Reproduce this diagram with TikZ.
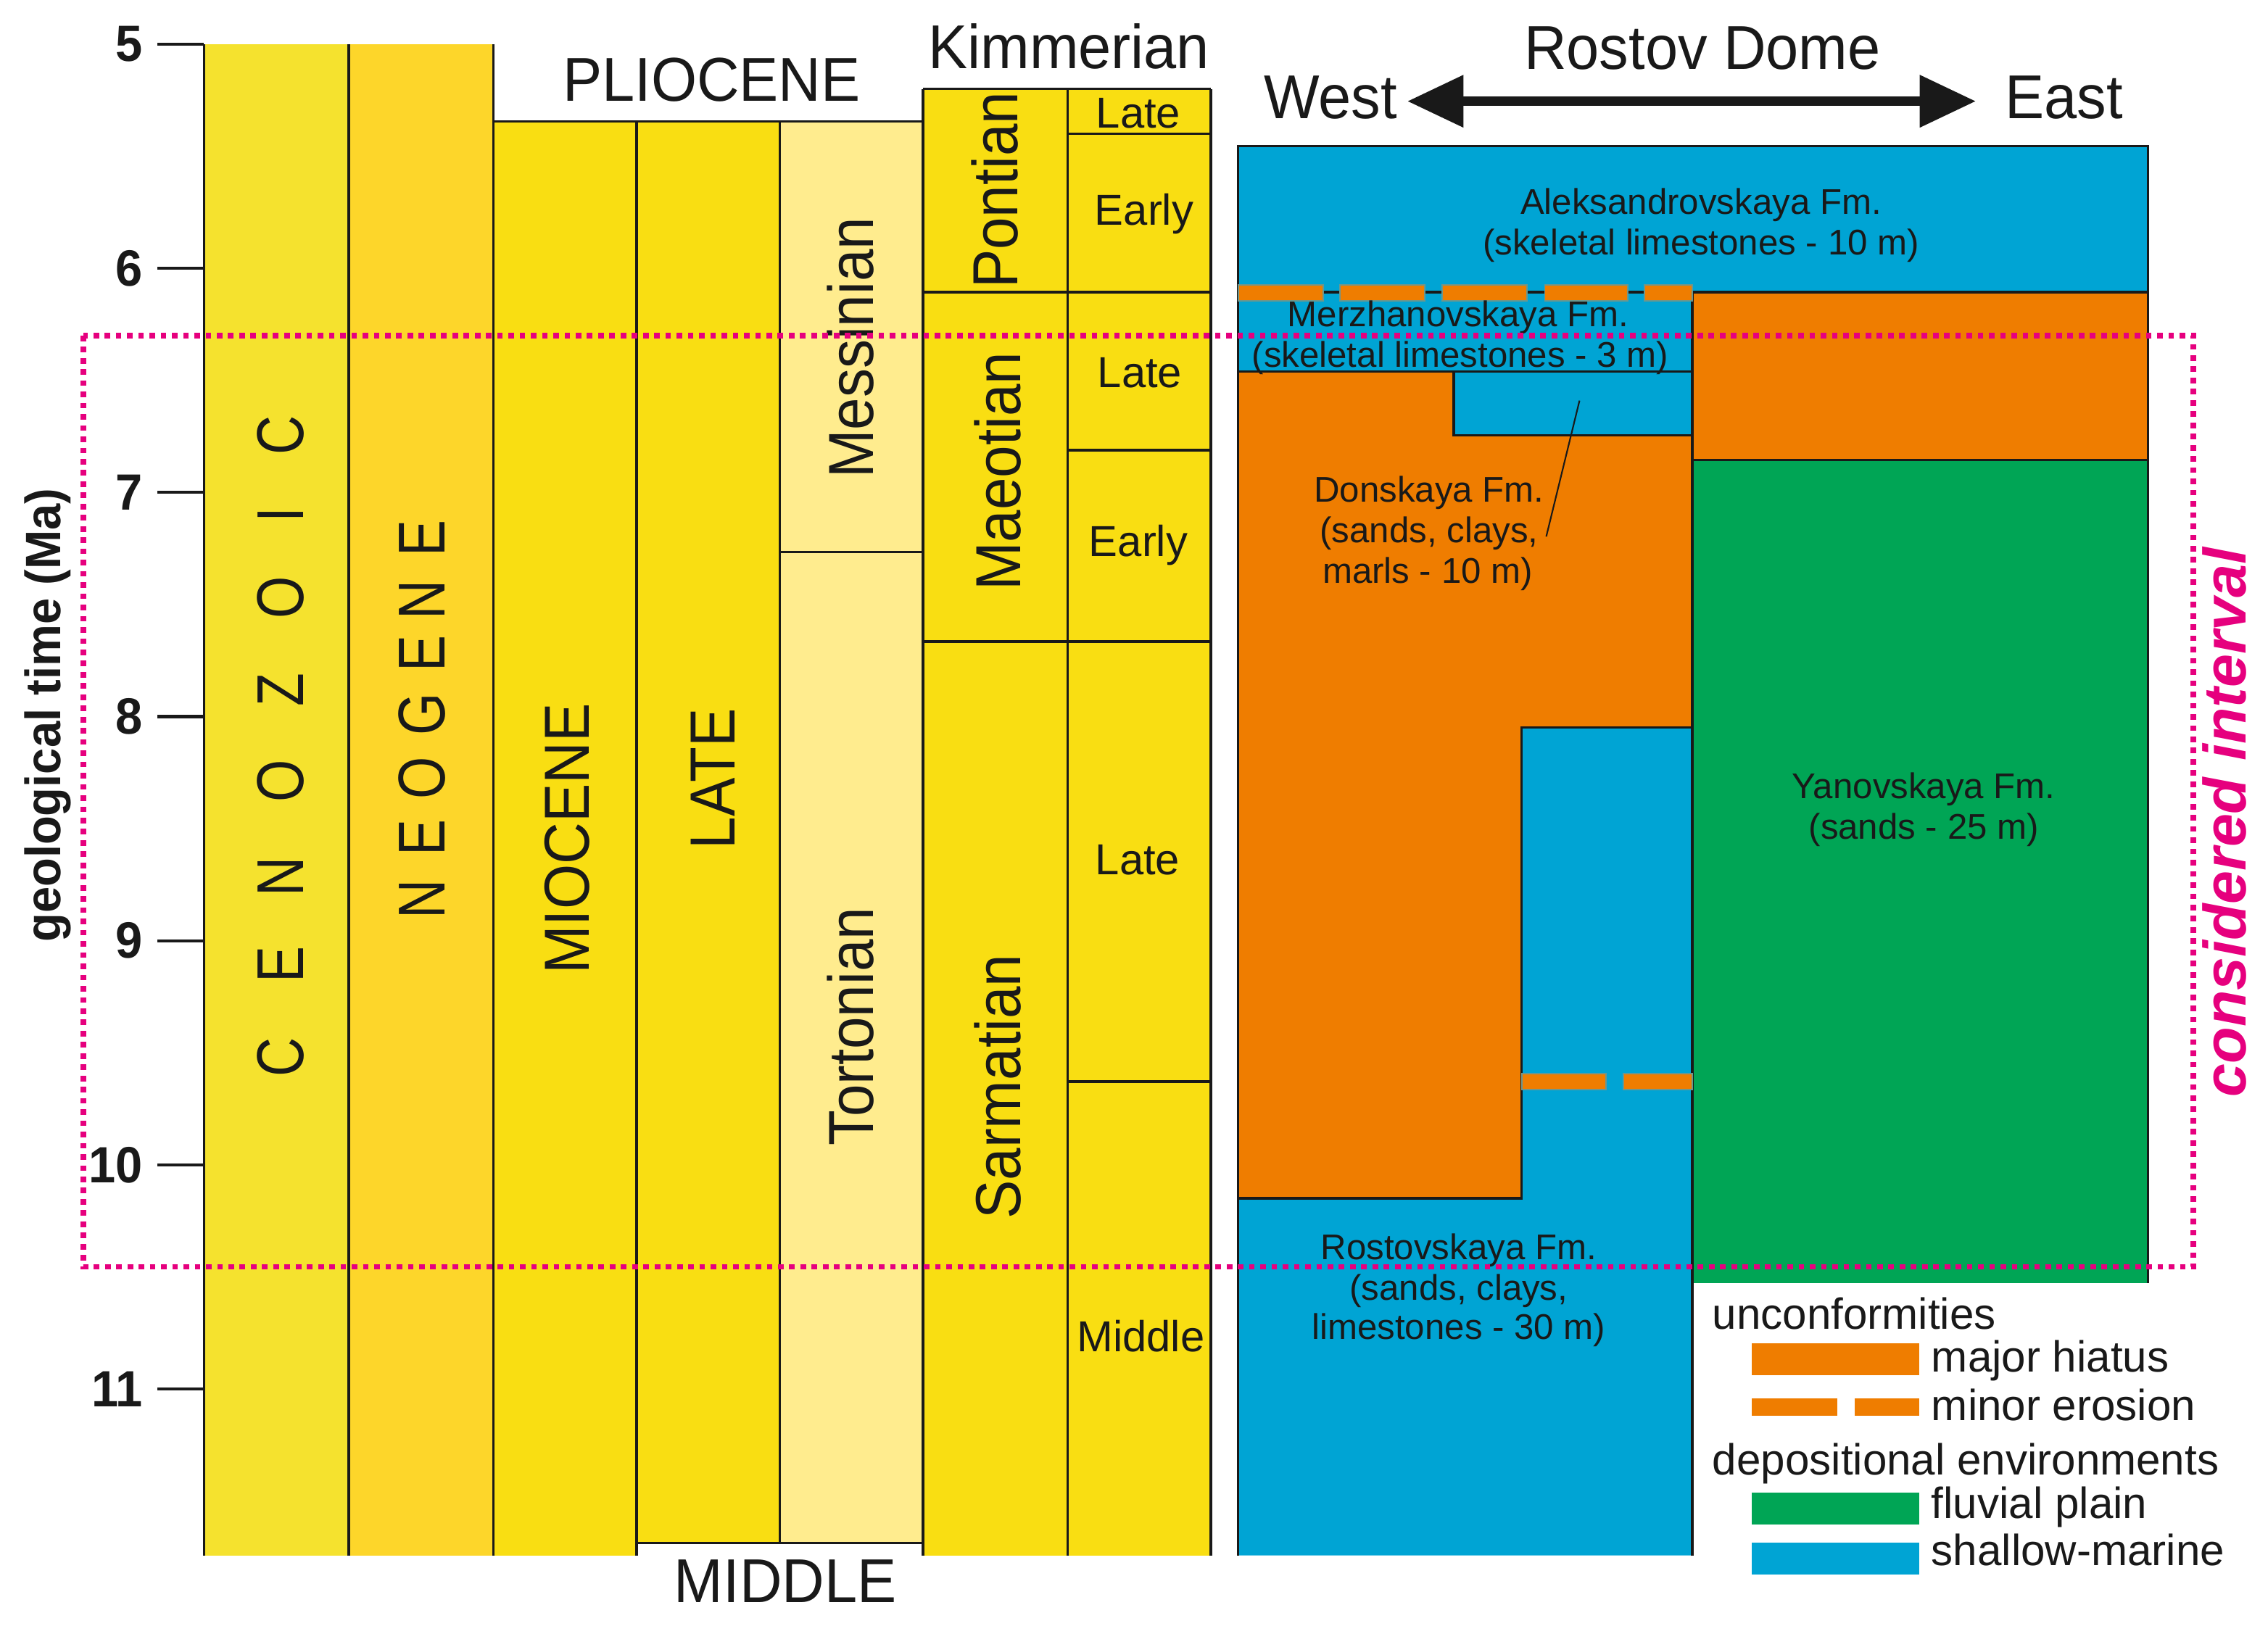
\documentclass[tikz,border=0pt]{standalone}
\usepackage{fontspec}
\setmainfont{Liberation Sans}
\newfontfamily\fBig[FakeStretch=0.95]{Liberation Sans}
\newfontfamily\fCol[FakeStretch=0.91]{Liberation Sans}
\newfontfamily\fLtr[FakeStretch=0.82]{Liberation Sans}
\newfontfamily\fTick[FakeStretch=0.95]{Liberation Sans}
\usetikzlibrary{arrows.meta}
\definecolor{cYa}{RGB}{245,226,46}
\definecolor{cYb}{RGB}{253,214,42}
\definecolor{cYc}{RGB}{249,222,18}
\definecolor{cPale}{RGB}{255,236,142}
\definecolor{cBlue}{RGB}{0,164,212}
\definecolor{cOr}{RGB}{239,125,0}
\definecolor{cGr}{RGB}{0,165,85}
\definecolor{cMag}{RGB}{230,0,126}
\definecolor{cInk}{RGB}{25,25,25}
\begin{document}
\begin{tikzpicture}[x=0.01995cm,y=-0.01995cm,
  border/.style={draw=cInk,line width=1pt,line join=miter},
  biglab/.style={font=\fBig\fontsize{24.3}{28}\selectfont,inner sep=0pt,anchor=base,text=cInk},
  collab/.style={font=\fCol\fontsize{25}{30}\selectfont,inner sep=0pt,rotate=90,text=cInk},
  ltrlab/.style={font=\fLtr\fontsize{26}{30}\selectfont,inner sep=0pt,rotate=90,text=cInk},
  sublab/.style={font=\fontsize{17}{20}\selectfont,inner sep=0pt,anchor=base,text=cInk},
  fmlab/.style={font=\fontsize{14}{16}\selectfont,inner sep=0pt,anchor=base,text=cInk},
  leglab/.style={font=\fontsize{17.1}{20}\selectfont,inner sep=0pt,anchor=base west,text=cInk},
  ticklab/.style={font=\fTick\bfseries\fontsize{20}{22}\selectfont,inner sep=0pt,anchor=east,text=cInk},
  erosion/.style={fill=cOr,draw={rgb,255:red,110;green,150;blue,140},line width=0.5pt}
]
\fill[white] (0,0) rectangle (1568,1124);
\useasboundingbox (0,0) rectangle (1568,1124);

% ---------- stratigraphic columns (fills)
\fill[cYa] (141,30.5) rectangle (241,1075.5);
\fill[cYb] (241,30.5) rectangle (341,1075.5);
\fill[cYc] (341,84) rectangle (440,1075.5);
\fill[cYc] (440,84) rectangle (539,1067);
\fill[cPale] (539,84) rectangle (638,1067);
\fill[cYc] (638,61.5) rectangle (837,1075.5);

% ---------- column lines
\draw[border] (141,30.5) -- (141,1075.5);
\draw[border] (241,30.5) -- (241,1075.5);
\draw[border] (341,30.5) -- (341,1075.5);
\draw[border] (341,84) -- (638,84);
\draw[border] (440,84) -- (440,1075.5);
\draw[border] (539,84) -- (539,1067);
\draw[border] (440,1067) -- (638,1067);
\draw[border] (539,381.7) -- (638,381.7);
\draw[border] (638,61.5) -- (638,1075.5);
\draw[border] (638,61.5) -- (837,61.5);
\draw[border] (738,61.5) -- (738,1075.5);
\draw[border] (837,61.5) -- (837,1075.5);
\draw[border] (738,92.4) -- (837,92.4);
\draw[border] (638,202) -- (837,202);
\draw[border] (738,311.3) -- (837,311.3);
\draw[border] (638,443.6) -- (837,443.6);
\draw[border] (738,748) -- (837,748);

% ---------- time axis
\foreach \t in {5,...,11}{
  \draw[draw=cInk,line width=1.2pt] (109,{30.5+155*(\t-5)}) -- (141,{30.5+155*(\t-5)});
  \node[ticklab] (tk\t) at (99,{30.5+155*(\t-5)}) {\t};
}
\node[font=\fTick\bfseries\fontsize{19.5}{22}\selectfont,inner sep=0pt,rotate=90,text=cInk] (axis) at (33,494.6) {geological time (Ma)};

% ---------- column labels
\foreach \l/\yy [count=\i] in {C/731,E/667,N/606,O/540,Z/477,O/413,I/356,C/301}
  \node[ltrlab] (cz\i) at (194,\yy) {\l};
\foreach \l/\yy [count=\i] in {N/622,E/579,O/538,G/494,E/452,N/415,E/372}
  \node[ltrlab] (ng\i) at (291.6,\yy) {\l};
\node[collab] (mio) at (392,580) {MIOCENE};
\node[collab] (late) at (493,538.5) {LATE};
\node[collab] (mess) at (588,240.5) {Messinian};
\node[collab] (tort) at (588,710) {Tortonian};
\node[collab] (pont) at (688,131.5) {Pontian};
\node[collab] (maeo) at (690,326) {Maeotian};
\node[collab] (sarm) at (690,751.5) {Sarmatian};
\node[biglab] (plio) at (492,70) {PLIOCENE};
\node[biglab] (middle) at (543,1108) {MIDDLE};
\node[biglab] (kimm) at (739,47.6) {Kimmerian};
\node[sublab] (s1) at (787,88.6) {Late};
\node[sublab] (s2) at (791,155.4) {Early};
\node[sublab] (s3) at (788,268) {Late};
\node[sublab] (s4) at (787,384.5) {Early};
\node[sublab] (s5) at (786.5,605) {Late};
\node[sublab] (s6) at (788.7,934.5) {Middle};

% ---------- Rostov Dome panel (fills)
\fill[cBlue] (856,101) rectangle (1485,202);
\fill[cBlue] (856,202) rectangle (1170,257);
\fill[cOr] (1170,202) rectangle (1485,318);
\fill[cGr] (1170,318) rectangle (1485,887);
\fill[cOr] (856,257) -- (1005,257) -- (1005,301) -- (1170,301) -- (1170,503) -- (1052,503) -- (1052,828.5) -- (856,828.5) -- cycle;
\fill[cBlue] (1005,257) rectangle (1170,301);
\fill[cBlue] (856,828.5) -- (1052,828.5) -- (1052,503) -- (1170,503) -- (1170,1075.5) -- (856,1075.5) -- cycle;

% ---------- panel lines
\draw[border] (856,1075.5) -- (856,101) -- (1485,101) -- (1485,887);
\draw[border] (856,202) -- (1485,202);
\draw[border] (856,257) -- (1170,257);
\draw[border] (1005,257) -- (1005,301) -- (1170,301);
\draw[border] (1170,202) -- (1170,1075.5);
\draw[border] (1170,318) -- (1485,318);
\draw[border] (1170,503) -- (1052,503) -- (1052,828.5) -- (856,828.5);

% ---------- minor erosion dashes
\foreach \xa/\xb in {856/915,926.5/985,997/1055.5,1068/1125.5,1137/1170}
  \filldraw[erosion] (\xa,197) rectangle (\xb,208);
\foreach \xa/\xb in {1052/1110.5,1122.5/1170}
  \filldraw[erosion] (\xa,742.5) rectangle (\xb,753.5);

% ---------- formation labels
\node[fmlab] (al1) at (1176,148) {Aleksandrovskaya Fm.};
\node[fmlab] (al2) at (1176,176) {(skeletal limestones - 10 m)};
\node[fmlab] (mz1) at (1008,226) {Merzhanovskaya Fm.};
\node[fmlab] (mz2) at (1009.5,254) {(skeletal limestones - 3 m)};
\node[fmlab] (dn1) at (988,347) {Donskaya Fm.};
\node[fmlab] (dn2) at (988,375) {(sands, clays,};
\node[fmlab] (dn3) at (987,403.5) {marls - 10 m)};
\node[fmlab] (yn1) at (1330,552) {Yanovskaya Fm.};
\node[fmlab] (yn2) at (1330,580) {(sands - 25 m)};
\node[fmlab] (rs1) at (1008.5,871) {Rostovskaya Fm.};
\node[fmlab] (rs2) at (1008.5,899) {(sands, clays,};
\node[fmlab] (rs3) at (1008.5,926) {limestones - 30 m)};
\coordinate (ldA) at (1092,277);
\coordinate (ldB) at (1069,371);
\draw[draw=cInk,line width=0.6pt] (ldA) -- (ldB);

% ---------- header with arrow
\node[biglab] (rostov) at (1177,48) {Rostov Dome};
\node[biglab] (west) at (920,82) {West};
\node[biglab] (east) at (1427,82) {East};
\coordinate (wtip) at (973,70);
\coordinate (etip) at (1366,70);
\draw[draw=cInk,line width=3.6pt,{Triangle[length=22pt,width=19.7pt]}-{Triangle[length=22pt,width=19.7pt]}] (wtip) -- (etip);

% ---------- legend
\node[leglab] (lgU) at (1183.6,919) {unconformities};
\fill[cOr] (1211,929) rectangle (1327,951);
\node[leglab] (lgH) at (1335,948.6) {major hiatus};
\fill[cOr] (1211,967) rectangle (1270,979);
\fill[cOr] (1282,967) rectangle (1327,979);
\node[leglab] (lgE) at (1335,982) {minor erosion};
\node[leglab] (lgD) at (1183.6,1020) {depositional environments};
\fill[cGr] (1211,1032) rectangle (1327,1054);
\node[leglab] (lgF) at (1335,1050) {fluvial plain};
\fill[cBlue] (1211,1066.6) rectangle (1327,1089);
\node[leglab] (lgS) at (1335,1082.5) {shallow-marine};

% ---------- considered interval
\draw[cMag,line width=2.2pt,dash pattern=on 2.2pt off 2.2pt] (57.5,232) rectangle (1516.5,876);
\node[font=\bfseries\itshape\fontsize{23.5}{28}\selectfont,inner sep=0pt,rotate=90,text=cMag] (ci) at (1538,568.7) {considered interval};
\end{tikzpicture}
\end{document}
